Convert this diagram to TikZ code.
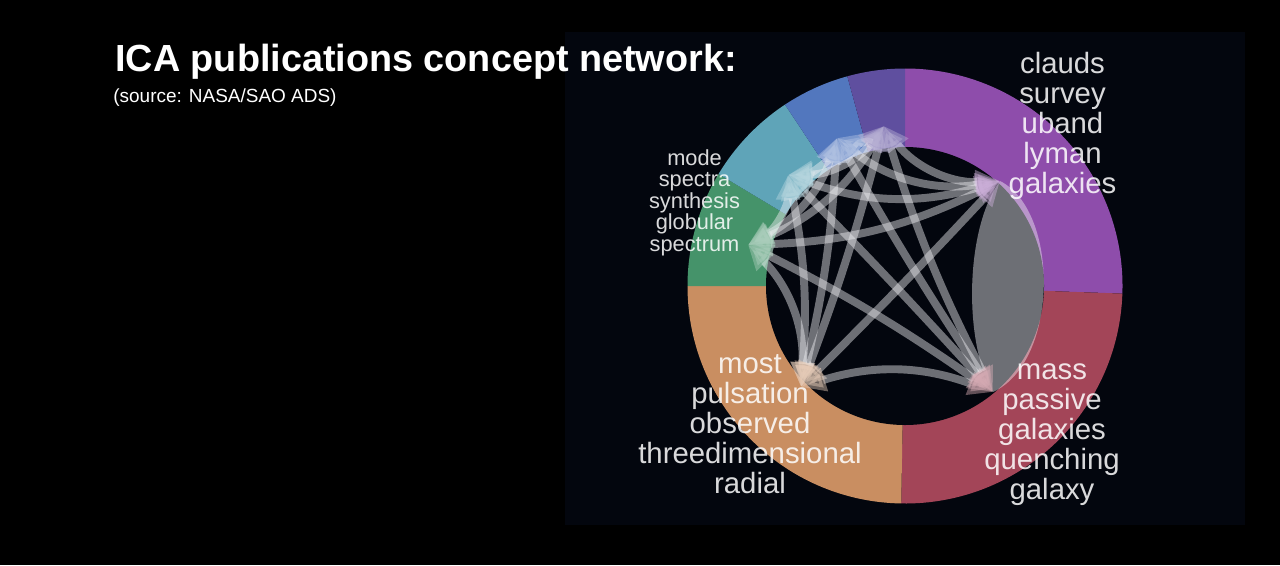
\documentclass[tikz,border=0pt]{standalone}
\usepackage{fontspec}
\setmainfont{Liberation Sans}
\usetikzlibrary{arrows.meta}

\definecolor{panel}{RGB}{3,6,14}
\definecolor{edgegray}{RGB}{240,240,244}
\definecolor{cPur}{RGB}{142,77,171}
\definecolor{cRed}{RGB}{163,69,88}
\definecolor{cOra}{RGB}{201,142,97}
\definecolor{cGrn}{RGB}{69,147,106}
\definecolor{cCya}{RGB}{95,164,184}
\definecolor{cBlu}{RGB}{82,119,190}
\definecolor{cInd}{RGB}{95,79,159}

\tikzset{
  link/.style 2 args={draw=edgegray,line width=4.5pt,opacity=0.45,
    arrows={Triangle[length=14pt,width=13pt,color=#1!45!white]-Triangle[length=14pt,width=13pt,color=#2!45!white]}},
  lens/.style={fill=edgegray,opacity=0.45},
  biglbl/.style={text=white,text opacity=0.85,align=center,inner sep=0pt,anchor=base,
    font=\fontsize{16.7}{17}\selectfont},
  smalllbl/.style={text=white,text opacity=0.85,align=center,inner sep=0pt,anchor=base,
    font=\fontsize{12.4}{12.2}\selectfont}
}

\begin{document}
\begin{tikzpicture}[x=0.02cm,y=-0.02cm]
\useasboundingbox (0,0) rectangle (1280,565);
\fill[black] (0,0) rectangle (1280,565);
\fill[panel] (565,31.5) rectangle (1245,525);
\coordinate (ctr) at (905,286);
% ring
\fill[cPur] (ctr) -- ++(-90:217.5) arc[start angle=-90,end angle=2,radius=217.5] -- cycle;
\fill[cRed] (ctr) -- ++(2:217.5) arc[start angle=2,end angle=91,radius=217.5] -- cycle;
\fill[cOra] (ctr) -- ++(91:217.5) arc[start angle=91,end angle=180,radius=217.5] -- cycle;
\fill[cGrn] (ctr) -- ++(180:217.5) arc[start angle=180,end angle=211,radius=217.5] -- cycle;
\fill[cCya] (ctr) -- ++(211:217.5) arc[start angle=211,end angle=236.5,radius=217.5] -- cycle;
\fill[cBlu] (ctr) -- ++(236.5:217.5) arc[start angle=236.5,end angle=254.6,radius=217.5] -- cycle;
\fill[cInd] (ctr) -- ++(254.6:217.5) arc[start angle=254.6,end angle=270,radius=217.5] -- cycle;
\fill[panel] (ctr) circle (139);
% concept hubs
\coordinate (P) at (1000,181);
\coordinate (R) at (993,392);
\coordinate (O) at (801,387);
\coordinate (G) at (748,245);
\coordinate (C) at (788,175);
\coordinate (B) at (837,138);
\coordinate (I) at (884,126);
% links
\fill[lens] (P) .. controls +(60,30) and +(66,-30) .. (R) .. controls +(-29,-47) and +(-36,49) .. (P) -- cycle;
\draw[link={cOra}{cPur}] (O) to[bend right=1] (P);
\draw[link={cGrn}{cPur}] (G) to[bend right=12] (P);
\draw[link={cCya}{cPur}] (C) to[bend right=18] (P);
\draw[link={cBlu}{cPur}] (B) to[bend right=24] (P);
\draw[link={cInd}{cPur}] (I) to[bend right=28] (P);
\draw[link={cRed}{cOra}] (R) to[bend right=19] (O);
\draw[link={cRed}{cGrn}] (R) to[bend right=4] (G);
\draw[link={cRed}{cCya}] (R) to[bend right=1] (C);
\draw[link={cBlu}{cRed}] (B) to[bend right=2] (R);
\draw[link={cInd}{cRed}] (I) to[bend right=5] (R);
\draw[link={cOra}{cGrn}] (O) to[bend right=24] (G);
\draw[link={cOra}{cCya}] (O) to[bend right=8] (C);
\draw[link={cOra}{cBlu}] (O) to[bend right=5] (B);
\draw[link={cOra}{cInd}] (O) to[bend right=3] (I);
\draw[link={cGrn}{cCya}] (G) to[bend right=30] (C);
\draw[link={cGrn}{cBlu}] (G) to[bend right=22] (B);
\draw[link={cGrn}{cInd}] (G) to[bend right=18] (I);
\draw[link={cCya}{cBlu}] (C) to[bend right=32] (B);
\draw[link={cCya}{cInd}] (C) to[bend right=26] (I);
\draw[link={cBlu}{cInd}] (B) to[bend right=32] (I);
% labels (base = last line)
\node[biglbl] (lblPur) at (1062.5,193) {clauds\\survey\\uband\\lyman\\galaxies};
\node[smalllbl] (lblGrn) at (694.5,251) {mode\\spectra\\synthesis\\globular\\spectrum};
\node[biglbl] (lblOra) at (750,493) {most\\pulsation\\observed\\threedimensional\\radial};
\node[biglbl] (lblRed) at (1052,499) {mass\\passive\\galaxies\\quenching\\galaxy};
\node[anchor=base west,inner sep=0pt,text=white,font=\bfseries\fontsize{21.5}{25}\selectfont] (title) at (115,71) {ICA publications concept network:};
\node[anchor=base west,inner sep=0pt,text=white,font=\fontsize{10.8}{13}\selectfont] (source) at (113,102.7) {(source: NASA/SAO ADS)};
\end{tikzpicture}
\end{document}
